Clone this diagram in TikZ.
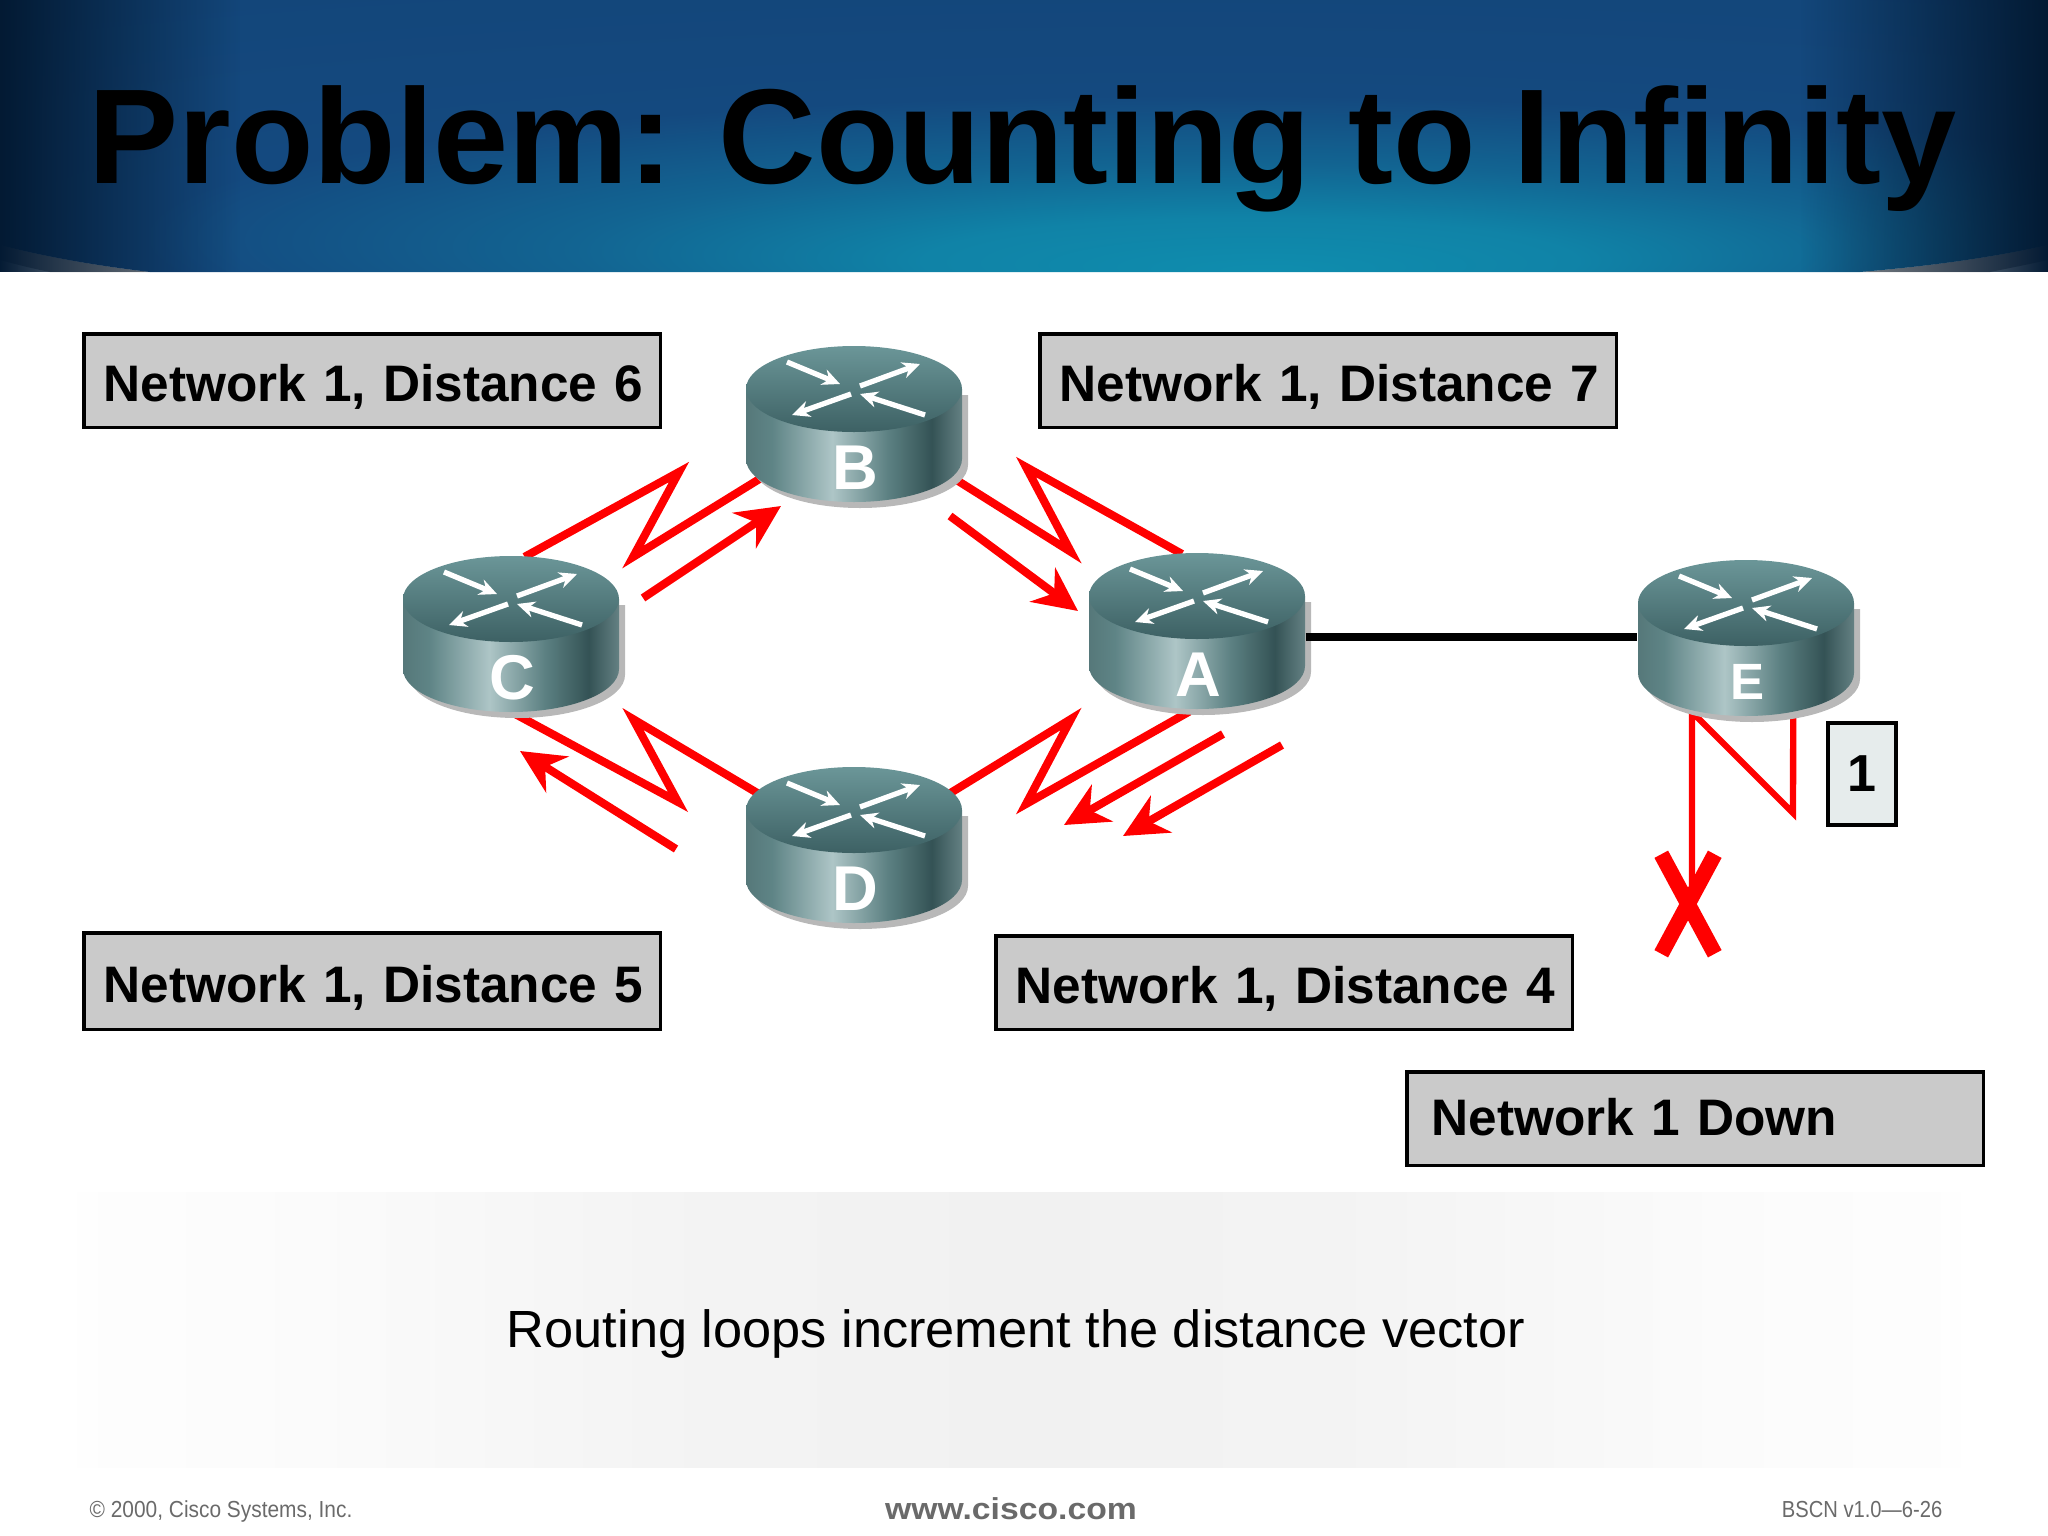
\documentclass[tikz,border=0pt]{standalone}
\usepackage{fontspec}
\setmainfont{Liberation Sans}
\usetikzlibrary{arrows.meta,shapes.geometric,shapes.misc,fadings}
\definecolor{bandnavy}{HTML}{14497F}
\definecolor{bandteal}{HTML}{0F8DAE}
\definecolor{banddark}{HTML}{031A33}
\definecolor{boxgrey}{HTML}{CACACA}
\definecolor{costbox}{HTML}{E6ECEC}
\definecolor{footgrey}{HTML}{6A6A6A}
\definecolor{routertopa}{HTML}{6B9698}
\definecolor{routertopb}{HTML}{3D6164}
\pgfdeclareradialshading{bandglow}{\pgfpoint{6bp}{-25bp}}{%
  color(0bp)=(bandteal); color(8bp)=(bandteal!85!bandnavy); color(16bp)=(bandteal!40!bandnavy);
  color(26bp)=(bandnavy); color(100bp)=(bandnavy!85!black)}
\pgfdeclarehorizontalshading{routerside}{100bp}{%
  color(0bp)=(routertopa); color(25bp)=(routertopa!80!black); color(31bp)=(routertopa!88!black);
  color(45bp)=(routertopa!55!white); color(58bp)=(routertopa!85!black); color(68bp)=(routertopb!85!black);
  color(75bp)=(routertopb!80!white); color(100bp)=(routertopb)}
\pgfdeclarehorizontalshading{panelfade}{100bp}{%
  color(0bp)=(black!0.5); color(25bp)=(black!0.5); color(31bp)=(black!1.5); color(41bp)=(black!4.5);
  color(50bp)=(black!5.5); color(59bp)=(black!4.5); color(69bp)=(black!1.5); color(75bp)=(black!0.5); color(100bp)=(black!0.5)}
\tikzfading[name=edgeleft,left color=transparent!0,right color=transparent!100]
\tikzfading[name=edgeright,left color=transparent!100,right color=transparent!0]
\tikzset{
  routerbody/.style={ellipse,minimum width=2.16cm,minimum height=1.54cm,inner sep=0pt},
  routermark/.style={draw=white,fill=white,line width=1.5pt,-{Stealth[length=5pt,width=4.6pt]}},
  netbox/.style={draw=black,fill=boxgrey,line width=1pt,anchor=north west,inner xsep=0.2cm,inner ysep=0pt,
    text width=5.365cm,text height=19.2pt,text depth=7.4pt,align=left,font=\fontsize{14.6}{16}\selectfont\bfseries},
  zigzag/.style={draw=red,line width=2.3pt,miter limit=12},
  update/.style={draw=red,line width=2.3pt,->},
  pics/router/.style n args={2}{code={
    \fill[black!28] (-102,-29) -- (-102,41) arc[start angle=180,end angle=0,x radius=108,y radius=43] -- (114,-29) -- cycle;
    \path[shading=routerside] (-108,-35) -- (-108,35) arc[start angle=180,end angle=0,x radius=108,y radius=43] -- (108,-35) -- cycle;
    \path[top color=routertopa,bottom color=routertopb] (0,-35) ellipse[x radius=108,y radius=43];
    \foreach \tailx/\taily/\tipx/\tipy in {-67/-62/-14/-40,6/-38/66/-60,-3/-30/-62/-9,71/-9/6/-30}
      \draw[routermark] (\tailx,\taily) -- (\tipx,\tipy);
    \node[text=white,font=#2] at (1,44) {#1};
  }},
}
\begin{document}
\begin{tikzpicture}[x=0.01cm,y=-0.01cm,>={Stealth[length=12.5pt,width=12pt]}]
  \useasboundingbox (0,0) rectangle (2048,1536);
  % title band
  \fill[black!40] (0,245) .. controls (50,258) and (100,266) .. (150,272) -- (50,272) .. controls (30,268) and (15,264) .. (0,260) -- cycle;
  \fill[black!40] (2048,245) .. controls (1990,258) and (1930,266) .. (1860,272) -- (1990,272) .. controls (2010,268) and (2030,264) .. (2048,260) -- cycle;
  \path[shading=bandglow] (0,0) -- (2048,0) -- (2048,245) .. controls (1990,258) and (1930,266) .. (1860,272) -- (150,272) .. controls (100,266) and (50,258) .. (0,245) -- cycle;
  \fill[banddark,path fading=edgeleft] (0,0) rectangle (240,272);
  \fill[banddark,path fading=edgeright] (1800,0) rectangle (2048,272);
  \node[anchor=base west,inner sep=0pt,font=\fontsize{38.4}{40}\selectfont\bfseries] (title) at (88,183) {Problem:\hspace{-1.5pt} Counting to Infinity};
  % routers, the lines go under them
  \node[routerbody] (rB) at (854,424) {};
  \node[routerbody] (rC) at (511,634) {};
  \node[routerbody] (rD) at (854,845) {};
  \node[routerbody] (rA) at (1197,631) {};
  \node[routerbody] (rE) at (1746,638) {};
  \coordinate (portA) at (1197,637);
  \draw[zigzag] (rC.80) -- (679,472) -- (633,557) -- (rB.210);
  \draw[zigzag] (rB.332) -- (1071,552) -- (1026,467) -- (rA.101);
  \draw[zigzag] (rD.28) -- (1071,719) -- (1026,804) -- (rA.268);
  \draw[zigzag] (rC.270) -- (678,802) -- (633,719) -- (rD.152);
  % update arrows
  \coordinate (cbTail) at (643,598);
  \coordinate (cbTip) at (781,506);
  \coordinate (baTail) at (950,516);
  \coordinate (baTip) at (1078,611);
  \coordinate (adTail) at (1223,734);
  \coordinate (adTip) at (1064,825);
  \coordinate (aeTail) at (1282,745);
  \coordinate (aeTip) at (1123,836);
  \coordinate (dcTail) at (676,849);
  \coordinate (dcTip) at (520,751);
  \draw[update] (cbTail) -- (cbTip);
  \draw[update] (baTail) -- (baTip);
  \draw[update] (adTail) -- (adTip);
  \draw[update] (aeTail) -- (aeTip);
  \draw[update] (dcTail) -- (dcTip);
  % failed link
  \node[cross out,draw=red,line width=4.4pt,minimum width=0.38cm,minimum height=0.84cm,inner sep=0pt] (linkbreak) at (1688,904) {};
  \coordinate (eDrop) at (1692,712);
  \draw[zigzag,line width=1.8pt] (rE.304) -- (1793,813) -- (eDrop) -- (eDrop |- linkbreak);
  \pic at (rB) {router={B}{\fontsize{18}{20}\selectfont\bfseries}};
  \pic at (rC) {router={C}{\fontsize{18}{20}\selectfont\bfseries}};
  \pic at (rD) {router={D}{\fontsize{18}{20}\selectfont\bfseries}};
  \pic at (rA) {router={A}{\fontsize{18}{20}\selectfont\bfseries}};
  \pic at (rE) {router={E}{\fontsize{14.5}{16}\selectfont\bfseries}};
  \draw[line width=2.2pt] (rA.east |- portA) -- (portA -| rE.west);
  % labels
  \node[netbox] (dist6) at (82,332) {\mbox{Network 1, Distance 6}};
  \node[netbox] (dist7) at (1038,332) {\mbox{Network 1, Distance 7}};
  \node[netbox,text height=19.9pt,text depth=7.6pt] (dist5) at (82,931) {\mbox{Network 1, Distance 5}};
  \node[netbox] (dist4) at (994,934) {\mbox{Network 1, Distance 4}};
  \node[netbox,inner xsep=0.25cm,text width=5.265cm,text height=18.2pt,text depth=8.4pt] (down) at (1405,1070) {\mbox{Network 1 Down}};
  \node[draw=black,fill=costbox,line width=1pt,minimum width=0.68cm,minimum height=1.02cm,inner sep=0pt,font=\fontsize{14.8}{16}\selectfont\bfseries] (cost) at (1862,774) {1};
  % caption and footer
  \node[shade,shading=panelfade,minimum width=18.82cm,minimum height=2.75cm,inner sep=0pt] (panel) at (1019,1330) {};
  \node[anchor=base,inner sep=0pt,font=\fontsize{14.88}{16}\selectfont] (caption) at (1016,1347) {Routing loops increment the distance vector};
  \node[anchor=base west,inner sep=0pt,text=footgrey,font=\fontsize{6.6}{8}\selectfont] (copyright) at (89,1517) {\scalebox{0.9}[1]{© 2000, Cisco Systems, Inc.}};
  \node[anchor=base,inner sep=0pt,text=footgrey,font=\fontsize{8.6}{10}\selectfont\bfseries] (site) at (1011,1519) {\scalebox{1.115}[1]{www.cisco.com}};
  \node[anchor=base east,inner sep=0pt,text=footgrey,font=\fontsize{6.6}{8}\selectfont] (slide) at (1943,1517) {\scalebox{0.87}[1]{BSCN v1.0—6-26}};
\end{tikzpicture}
\end{document}
